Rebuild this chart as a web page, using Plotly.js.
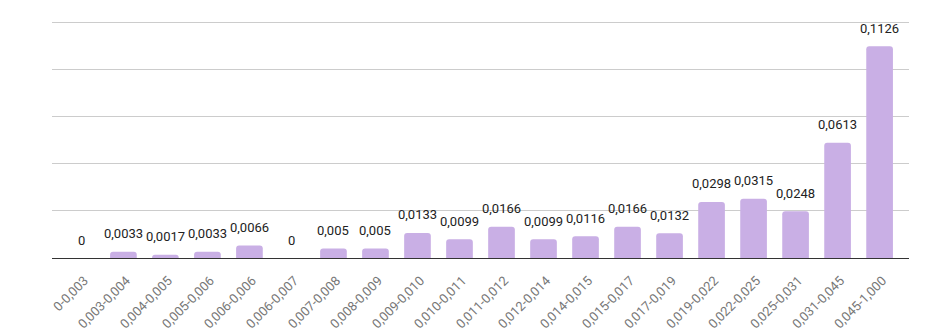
<!DOCTYPE html>
<html>
<head>
<meta charset="utf-8">
<script src="https://cdn.plot.ly/plotly-3.0.1.min.js"></script>
<style>html,body{margin:0;padding:0;background:#fff;}#chart{width:925px;height:331px;}</style>
</head>
<body>
<div id="chart"></div>
<script>
const categories = ["0-0,003","0,003-0,004","0,004-0,005","0,005-0,006","0,006-0,006","0,006-0,007","0,007-0,008","0,008-0,009","0,009-0,010","0,010-0,011","0,011-0,012","0,012-0,014","0,014-0,015","0,015-0,017","0,017-0,019","0,019-0,022","0,022-0,025","0,025-0,031","0,031-0,045","0,045-1,000"];
const values = [0,0.0033,0.0017,0.0033,0.0066,0,0.005,0.005,0.0133,0.0099,0.0166,0.0099,0.0116,0.0166,0.0132,0.0298,0.0315,0.0248,0.0613,0.1126];
const labels = values.map(v => String(v).replace('.', ','));

const annotations = categories.map((c, i) => ({
  x: c, y: values[i], xref: 'x', yref: 'y',
  text: labels[i], showarrow: false, yanchor: 'middle', yshift: 18,
  font: {family: 'Roboto, sans-serif', size: 13, color: '#222222'}
}));

const trace = {
  type: 'bar', x: categories, y: values,
  marker: {color: '#c9afe5', cornerradius: 3},
  hoverinfo: 'none'
};

const layout = {
  width: 925, height: 331,
  margin: {l: 52, r: 16, t: 20, b: 73},
  paper_bgcolor: '#ffffff', plot_bgcolor: '#ffffff',
  bargap: 0.365,
  showlegend: false,
  font: {family: 'Roboto, sans-serif'},
  xaxis: {
    type: 'category', range: [-0.7, 19.7],
    tickangle: -45, tickfont: {family: 'Roboto, sans-serif', size: 13, color: '#777777'},
    ticklabelstandoff: 9, ticklabelshift: 3,
    showgrid: false, showline: true, linecolor: '#333333', linewidth: 1,
    ticks: '', zeroline: false, fixedrange: true
  },
  yaxis: {
    range: [0, 0.1265], dtick: 0.025, tick0: 0,
    showticklabels: false, ticks: '',
    showgrid: true, gridcolor: '#cccccc', gridwidth: 1,
    zeroline: false, showline: false, fixedrange: true
  },
  annotations: annotations
};

Plotly.newPlot('chart', [trace], layout, {displayModeBar: false, staticPlot: true});
</script>
</body>
</html>
